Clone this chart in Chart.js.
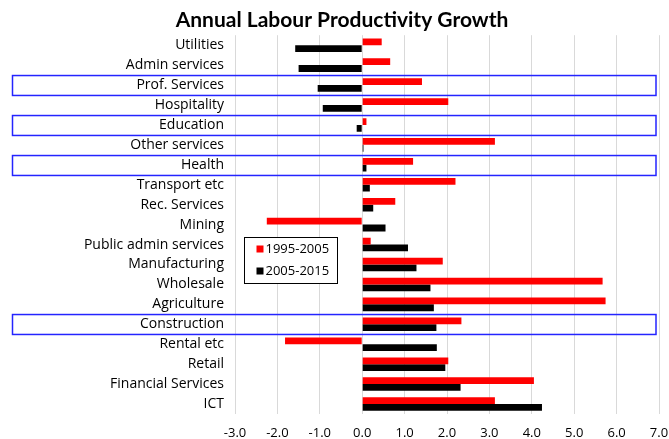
<!DOCTYPE html>
<html>
<head>
<meta charset="utf-8">
<title>Annual Labour Productivity Growth</title>
<script src="https://cdn.jsdelivr.net/npm/chart.js@4.4.1/dist/chart.umd.min.js"></script>
<style>
    html, body { margin: 0; padding: 0; background: #fff; }
    #wrap { position: relative; width: 669px; height: 439px; }
</style>
</head>
<body>
<div id="wrap"><canvas id="productivity-chart"></canvas></div>
<script>
'use strict';

var sectors = [
    'Utilities',
    'Admin services',
    'Prof. Services',
    'Hospitality',
    'Education',
    'Other services',
    'Health',
    'Transport etc',
    'Rec. Services',
    'Mining',
    'Public admin services',
    'Manufacturing',
    'Wholesale',
    'Agriculture',
    'Construction',
    'Rental etc',
    'Retail',
    'Financial Services',
    'ICT',
];

// annual growth, % per year
var growth1995to2005 = [0.46, 0.66, 1.41, 2.03, 0.10, 3.13, 1.20, 2.20, 0.78, -2.25, 0.20, 1.90, 5.67, 5.74, 2.34, -1.82, 2.03, 4.05, 3.13];
var growth2005to2015 = [-1.58, -1.50, -1.05, -0.93, -0.13, 0.03, 0.10, 0.18, 0.26, 0.55, 1.08, 1.28, 1.61, 1.69, 1.75, 1.76, 1.96, 2.32, 4.24];

var seriesNames = ['1995-2005', '2005-2015'];

// rows outlined in blue
var highlighted = ['Prof. Services', 'Education', 'Health', 'Construction'];

var axisMin = -3;
var axisMax = 7;

var labelFont = "'Open Sans', 'Noto Sans', sans-serif";

// blue outline around selected rows
var highlightRows = {
    id: 'highlightRows',
    afterDraw: function (chart) {
        var ctx = chart.ctx;
        var y = chart.scales.y;
        var half = y.height / sectors.length / 2;
        ctx.save();
        ctx.strokeStyle = '#2424ff';
        ctx.lineWidth = 1.5;
        highlighted.forEach(function (name) {
            var idx = sectors.indexOf(name);
            var cy = Math.round(y.getPixelForValue(idx));
            ctx.strokeRect(12.5, cy - half + 0.5, chart.chartArea.right - 3 - 12.5, half * 2);
        });
        ctx.restore();
    },
};

// boxed legend sitting inside the plot
var boxLegend = {
    id: 'boxLegend',
    afterDraw: function (chart) {
        var ctx = chart.ctx;
        var x0 = 244.5, y0 = 237.5, w = 93, h = 46;
        ctx.save();
        ctx.fillStyle = '#fff';
        ctx.fillRect(x0, y0, w, h);
        ctx.strokeStyle = '#000';
        ctx.lineWidth = 1;
        ctx.strokeRect(x0, y0, w, h);
        ctx.font = '13px ' + labelFont;
        ctx.textBaseline = 'middle';
        chart.data.datasets.forEach(function (ds, i) {
            var cy = y0 + 12 + i * 22;
            ctx.fillStyle = ds.backgroundColor;
            ctx.fillRect(x0 + 12, cy - 4, 7, 7);
            ctx.fillStyle = '#000';
            ctx.fillText(ds.label, x0 + 21, cy);
        });
        ctx.restore();
    },
};

new Chart(document.getElementById('productivity-chart'), {
    type: 'bar',
    data: {
        labels: sectors,
        datasets: [
            {
                label: seriesNames[0],
                data: growth1995to2005,
                backgroundColor: '#ff0000',
                borderWidth: 0,
                barPercentage: 1.0,
                categoryPercentage: 0.68,
            },
            {
                label: seriesNames[1],
                data: growth2005to2015,
                backgroundColor: '#000000',
                borderWidth: 0,
                barPercentage: 1.0,
                categoryPercentage: 0.68,
            },
        ],
    },
    options: {
        indexAxis: 'y',
        responsive: true,
        maintainAspectRatio: false,
        animation: false,
        layout: {
            padding: { left: 25, right: 10, top: 0, bottom: 0 },
        },
        scales: {
            x: {
                min: axisMin,
                max: axisMax,
                grid: {
                    color: '#d9d9d9',
                    lineWidth: 1,
                    drawTicks: false,
                },
                border: { display: false },
                ticks: {
                    stepSize: 1,
                    padding: 11,
                    color: '#000',
                    font: { family: labelFont, size: 13 },
                    callback: function (value) {
                        return Number(value).toFixed(1);
                    },
                },
                afterFit: function (scale) {
                    scale.height = 25;
                    // let the end labels overhang instead of shrinking the plot
                    scale.paddingLeft = 0;
                    scale.paddingRight = 0;
                },
            },
            y: {
                grid: { display: false, drawTicks: false },
                border: { display: false },
                ticks: {
                    padding: 11,
                    color: '#000',
                    autoSkip: false,
                    font: { family: labelFont, size: 14 },
                },
                afterFit: function (scale) {
                    scale.width = 210;
                    scale.paddingTop = 0;
                    scale.paddingBottom = 0;
                },
            },
        },
        plugins: {
            legend: { display: false },
            tooltip: { enabled: false },
            title: {
                display: true,
                text: 'Annual Labour Productivity Growth',
                color: '#000',
                font: { family: "Lato, 'Open Sans', sans-serif", size: 21, weight: 'bold' },
                padding: { top: 8, bottom: 2 },
            },
        },
    },
    plugins: [highlightRows, boxLegend],
});
</script>
</body>
</html>
